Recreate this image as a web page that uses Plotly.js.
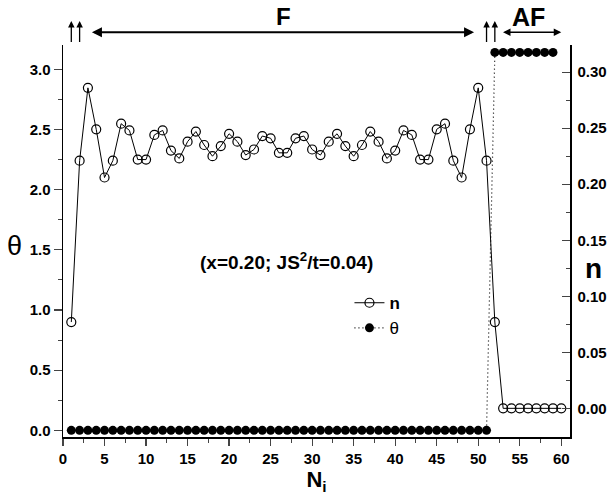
<!DOCTYPE html>
<html>
<head>
<meta charset="utf-8">
<script src="https://cdn.plot.ly/plotly-3.0.1.min.js"></script>
<style>html,body{margin:0;padding:0;background:#fff;}#chart{width:611px;height:497px;}</style>
</head>
<body>
<div id="chart"></div>
<script>
// Site index N_i
const siteN = [1,2,3,4,5,6,7,8,9,10,11,12,13,14,15,16,17,18,19,20,21,22,23,24,25,26,27,28,29,30,
  31,32,33,34,35,36,37,38,39,40,41,42,43,44,45,46,47,48,49,50,51,52,53,54,55,56,57,58,59,60];
// Electron density n (right axis)
const nValues = [0.077,0.221,0.286,0.249,0.206,0.221,0.254,0.248,0.222,0.222,
  0.244,0.248,0.230,0.223,0.238,0.247,0.235,0.225,0.234,0.245,
  0.238,0.226,0.231,0.243,0.241,0.228,0.228,0.241,0.243,0.231,
  0.226,0.238,0.245,0.234,0.225,0.235,0.247,0.238,0.223,0.230,
  0.248,0.244,0.222,0.222,0.249,0.254,0.221,0.206,0.249,0.286,
  0.221,0.077,0,0,0,0,0,0,0,0];
// Spin angle theta (left axis), sites 1..59
const thetaSites = [1,2,3,4,5,6,7,8,9,10,11,12,13,14,15,16,17,18,19,20,21,22,23,24,25,26,27,28,29,30,
  31,32,33,34,35,36,37,38,39,40,41,42,43,44,45,46,47,48,49,50,51,52,53,54,55,56,57,58,59];
const PI = 3.14159;
const thetaValues = [0,0,0,0,0,0,0,0,0,0,0,0,0,0,0,0,0,0,0,0,0,0,0,0,0,0,0,0,0,0,
  0,0,0,0,0,0,0,0,0,0,0,0,0,0,0,0,0,0,0,0,0,PI,PI,PI,PI,PI,PI,PI,PI];
const annotationText = '<b>(x=0.20; JS<sup>2</sup>/t=0.04)</b>';

const font = 'Liberation Sans, Arial, sans-serif';

const traces = [
  {x: siteN, y: nValues, yaxis: 'y2', type: 'scatter', mode: 'lines+markers', name: '<b>n</b>',
   line: {color: '#000', width: 1},
   marker: {symbol: 'circle-open', size: 9, color: '#000', line: {width: 1.2, color: '#000'}}},
  {x: thetaSites, y: thetaValues, yaxis: 'y', type: 'scatter', mode: 'lines+markers', name: 'θ',
   line: {color: '#000', width: 1.2, dash: '1px,3px'},
   marker: {symbol: 'circle', size: 9, color: '#000'}}
];

const xr = [0, 61.05];
const pyTop = 44.5, pyBot = 437;
function pyp(p){ return (pyBot - p) / (pyBot - pyTop); }
function pxp(p){ return (p - 63) / 507; }

function upArrow(xv){
  return {x: xv, y: pyp(20.5), ax: xv, ay: pyp(43), xref: 'x', yref: 'paper', axref: 'x', ayref: 'paper',
    showarrow: true, arrowhead: 2, arrowsize: 1, arrowwidth: 1.3, arrowcolor: '#000', text: ''};
}

const tickB = {tickprefix: '<b>', ticksuffix: '</b>'};

const layout = {
  width: 611, height: 497,
  margin: {l: 63, r: 41, t: 44.5, b: 60, pad: 0},
  paper_bgcolor: '#fff', plot_bgcolor: '#fff',
  font: {family: font, color: '#000', size: 14},
  showlegend: true,
  legend: {x: 0.565, y: pyp(285), xanchor: 'left', yanchor: 'top', bgcolor: 'rgba(0,0,0,0)',
           font: {size: 17, family: font}, tracegroupgap: 0, itemwidth: 30},
  xaxis: Object.assign({range: xr, dtick: 5, tick0: 0, ticks: 'outside', ticklen: 7, tickwidth: 1.2,
          showline: true, linewidth: 1.5, linecolor: '#000', showgrid: false, zeroline: false,
          minor: {dtick: 2.5, ticks: 'outside', ticklen: 4, tickwidth: 1},
          tickfont: {size: 15, family: font},
          title: {text: '<b>N<sub>i</sub></b>', font: {size: 22, family: font}, standoff: 6}}, tickB),
  xaxis2: {range: xr, overlaying: 'x', side: 'top', dtick: 5, tick0: 0, ticks: 'inside', ticklen: 6, tickwidth: 1.2,
          showline: true, linewidth: 1.5, linecolor: '#000', showgrid: false, zeroline: false, showticklabels: false,
          minor: {dtick: 2.5, ticks: 'inside', ticklen: 3, tickwidth: 1}},
  yaxis: Object.assign({range: [-0.0556, 3.2034], dtick: 0.5, tick0: 0, tickformat: '.1f', ticks: 'outside', ticklen: 8, tickwidth: 1.2,
          showline: true, linewidth: 1.5, linecolor: '#000', showgrid: false, zeroline: false,
          minor: {dtick: 0.25, ticks: 'outside', ticklen: 4, tickwidth: 1},
          tickfont: {size: 15, family: font}}, tickB),
  yaxis2: Object.assign({range: [-0.02558, 0.32424], overlaying: 'y', side: 'right', dtick: 0.05, tick0: 0, tickformat: '.2f',
          ticks: 'inside', ticklen: 8, tickwidth: 1.2,
          showline: true, linewidth: 1.5, linecolor: '#000', showgrid: false, zeroline: false,
          minor: {dtick: 0.025, ticks: 'inside', ticklen: 4, tickwidth: 1},
          tickfont: {size: 15, family: font}, ticklabelstandoff: 3}, tickB),
  annotations: [
    {x: pxp(286), y: pyp(261), xref: 'paper', yref: 'paper', xanchor: 'center', yanchor: 'middle',
     showarrow: false, text: annotationText, font: {size: 19, family: font}},
    {x: pxp(14), y: pyp(246), xref: 'paper', yref: 'paper', xanchor: 'center', yanchor: 'middle',
     showarrow: false, text: 'θ', font: {size: 27, family: font}},
    {x: pxp(593), y: pyp(268), xref: 'paper', yref: 'paper', xanchor: 'center', yanchor: 'middle',
     showarrow: false, text: '<b>n</b>', font: {size: 28, family: font}},
    {x: 26.6, y: pyp(16), xref: 'x', yref: 'paper', xanchor: 'center', yanchor: 'middle',
     showarrow: false, text: '<b>F</b>', font: {size: 24, family: font}},
    {x: 56, y: pyp(16), xref: 'x', yref: 'paper', xanchor: 'center', yanchor: 'middle',
     showarrow: false, text: '<b>AF</b>', font: {size: 25, family: font}},
    upArrow(1), upArrow(2), upArrow(51), upArrow(52),
    {x: 49.5, y: pyp(31.7), ax: 3.3, ay: pyp(31.7), xref: 'x', yref: 'paper', axref: 'x', ayref: 'paper',
     showarrow: true, arrowhead: 2, startarrowhead: 2, arrowside: 'end+start', arrowsize: 1, startarrowsize: 1,
     arrowwidth: 2, arrowcolor: '#000', text: ''},
    {x: 60, y: pyp(31.7), ax: 52.8, ay: pyp(31.7), xref: 'x', yref: 'paper', axref: 'x', ayref: 'paper',
     showarrow: true, arrowhead: 2, startarrowhead: 2, arrowside: 'end+start', arrowsize: 1, startarrowsize: 1,
     arrowwidth: 1.5, arrowcolor: '#000', text: ''}
  ]
};

Plotly.newPlot('chart', traces, layout, {displayModeBar: false, staticPlot: true});
</script>
</body>
</html>
